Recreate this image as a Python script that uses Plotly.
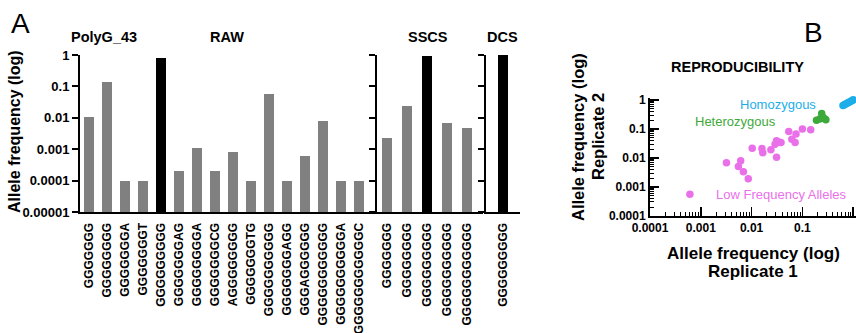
import plotly.graph_objects as go

W, H = 856, 333
FONT = "Liberation Sans, Arial, sans-serif"


def fx(p):
    return p / W


def fy(p):
    return 1 - p / H


# ---------------- data ----------------
raw_labels = ["GGGGGGG", "GGGGGGGG", "GGGGGGGA", "GGGGGGGT", "GGGGGGGGG",
              "GGGGGGGAG", "GGGGGGGGA", "GGGGGGGCG", "AGGGGGGGG", "GGGGGGGTG",
              "GGGGGGGGGG", "GGGGGGGAGG", "GGGAGGGGGG", "GGGGGGGGGGG",
              "GGGGGGGGGGA", "GGGGGGGGGGGC"]
raw_values = [0.011, 0.135, 0.0001, 0.0001, 0.78, 0.0002, 0.0011, 0.0002,
              0.0008, 0.0001, 0.056, 0.0001, 0.0006, 0.008, 0.0001, 0.0001]

sscs_labels = ["GGGGGGG", "GGGGGGGG", "GGGGGGGGG", "GGGGGGGGGG", "GGGGGGGGGGG"]
sscs_values = [0.0023, 0.024, 0.95, 0.0069, 0.0047]

dcs_labels = ["GGGGGGGGG"]
dcs_values = [0.98]

reference_allele = "GGGGGGGGG"

freq_ticks = [0.00001, 0.0001, 0.001, 0.01, 0.1, 1]
freq_ticktext = ["0.00001", "0.0001", "0.001", "0.01", "0.1", "1"]

homo_rep1 = [0.63, 0.67, 0.71, 0.76, 0.81, 0.86, 0.92, 0.97, 1.0]
homo_rep2 = [0.65, 0.69, 0.73, 0.77, 0.82, 0.87, 0.92, 0.97, 1.02]

het_rep1 = [0.24, 0.19, 0.29, 0.25, 0.22, 0.27]
het_rep2 = [0.34, 0.20, 0.21, 0.26, 0.22, 0.23]

low_rep1 = [0.00061, 0.0032, 0.0061, 0.0055, 0.0069, 0.0086, 0.0103, 0.016,
            0.0166, 0.024, 0.031, 0.029, 0.031, 0.035, 0.038, 0.054, 0.075,
            0.062, 0.072, 0.10, 0.146]
low_rep2 = [0.00055, 0.0068, 0.008, 0.005, 0.0033, 0.0019, 0.0215, 0.021,
            0.015, 0.019, 0.0105, 0.0295, 0.039, 0.035, 0.034, 0.081, 0.067,
            0.044, 0.034, 0.10, 0.094]

scatter_ticks = [0.0001, 0.001, 0.01, 0.1, 1]
scatter_ticktext = ["0.0001", "0.001", "0.01", "0.1", "1"]

GRAY = "#808080"
BLACK = "#000000"
CYAN = "#1DAEEA"
GREEN = "#3DA93A"
MAGENTA = "#EA70EA"

fig = go.Figure()


def bar_colors(labels):
    return [BLACK if l == reference_allele else GRAY for l in labels]


fig.add_trace(go.Bar(x=list(range(len(raw_labels))), y=raw_values,
                     marker=dict(color=bar_colors(raw_labels), line=dict(width=0)),
                     width=0.52, xaxis="x", yaxis="y"))
fig.add_trace(go.Bar(x=list(range(len(sscs_labels))), y=sscs_values,
                     marker=dict(color=bar_colors(sscs_labels), line=dict(width=0)),
                     width=0.47, xaxis="x2", yaxis="y2"))
fig.add_trace(go.Bar(x=list(range(len(dcs_labels))), y=dcs_values,
                     marker=dict(color=bar_colors(dcs_labels), line=dict(width=0)),
                     width=0.28, xaxis="x3", yaxis="y3"))

for xs, ys, c in [(low_rep1, low_rep2, MAGENTA), (het_rep1, het_rep2, GREEN),
                  (homo_rep1, homo_rep2, CYAN)]:
    fig.add_trace(go.Scatter(x=xs, y=ys, mode="markers",
                             marker=dict(color=c, size=7.5, line=dict(width=0)),
                             xaxis="x4", yaxis="y4", cliponaxis=False))

ydom = [fy(212), fy(55)]
tickfont_y = dict(family=FONT, size=13, color="black", weight="bold")
tickfont_x = dict(family=FONT, size=12, color="black", weight="bold")

common_x = dict(showgrid=False, zeroline=False, showline=True, linecolor="black",
                linewidth=2, ticks="", tickangle=-90, tickfont=tickfont_x,
                tickmode="array", ticklabelstandoff=4, fixedrange=True,
                automargin=False)
common_y = dict(type="log", range=[-5, 0], showgrid=False, zeroline=False,
                showline=True, linecolor="black", linewidth=2, ticks="outside",
                ticklen=6, tickwidth=2, tickcolor="black", tickmode="array",
                tickvals=freq_ticks, ticktext=freq_ticktext, tickfont=tickfont_y,
                automargin=False)

fig.update_layout(
    xaxis=dict(domain=[fx(80), fx(377)], range=[-0.5, 16.0], anchor="y",
               tickvals=list(range(len(raw_labels))), ticktext=raw_labels, **common_x),
    yaxis=dict(domain=ydom, anchor="x", **common_y),
    xaxis2=dict(domain=[fx(377), fx(483)], range=[-0.5, 4.8], anchor="y2",
                tickvals=list(range(len(sscs_labels))), ticktext=sscs_labels, **common_x),
    yaxis2=dict(domain=ydom, anchor="x2", showticklabels=False, **common_y),
    xaxis3=dict(domain=[fx(486), fx(520)], range=[-0.5, 0.5], anchor="y3",
                tickvals=list(range(len(dcs_labels))), ticktext=dcs_labels, **common_x),
    yaxis3=dict(domain=ydom, anchor="x3", showticklabels=False, **common_y),
)

scatter_axis = dict(type="log", showgrid=False, zeroline=False, showline=True,
                    linecolor="black", linewidth=2, ticks="inside", ticklen=9,
                    tickwidth=1.5, tickcolor="black", tickmode="array",
                    tickvals=scatter_ticks, ticktext=scatter_ticktext,
                    tickfont=dict(family=FONT, size=12, color="black", weight="bold"),
                    automargin=False,
                    minor=dict(ticks="inside", ticklen=4, tickwidth=1,
                               tickcolor="black", dtick="D1", showgrid=False))

fig.update_layout(
    xaxis4=dict(domain=[fx(650), fx(855.7)], range=[-4, 0.05], anchor="y4",
                **scatter_axis),
    yaxis4=dict(domain=[fy(215.7), fy(97.9)], range=[-4, 0.075], anchor="x4",
                **scatter_axis),
)

ann = []


def text(x, y, s, size, color="black", bold=True, angle=0, xanchor="center"):
    ann.append(dict(x=fx(x), y=fy(y), xref="paper", yref="paper", text=s,
                    showarrow=False, textangle=angle, xanchor=xanchor,
                    yanchor="middle",
                    font=dict(family=FONT, size=size, color=color,
                              weight="bold" if bold else "normal")))


text(20, 23, "A", 28, bold=False)
text(813, 32, "B", 28, bold=False)
text(104, 37, "PolyG_43", 14.5)
text(226.7, 37, "RAW", 14.5)
text(427.5, 37, "SSCS", 14.5)
text(502.5, 37, "DCS", 14.5)
text(15, 132, "Allele frequency (log)", 16, angle=-90)
text(737, 67, "REPRODUCIBILITY", 14.5)
text(753, 253, "Allele frequency (log)", 17)
text(753, 271, "Replicate 1", 17)
text(578, 137, "Allele frequency (log)", 16.5, angle=-90)
text(598, 137, "Replicate 2", 16.5, angle=-90)
text(778, 104, "Homozygous", 13, color=CYAN, bold=False)
text(735, 122, "Heterozygous", 13, color=GREEN, bold=False)
text(781.3, 194, "Low Frequency Alleles", 13, color=MAGENTA, bold=False)

fig.update_layout(
    width=W, height=H, margin=dict(l=0, r=0, t=0, b=0, autoexpand=False),
    paper_bgcolor="white", plot_bgcolor="white", showlegend=False,
    annotations=ann, bargap=0,
)

fig.write_html("out.html", config={"displayModeBar": False, "staticPlot": True},
               post_script="document.body.style.margin='0';"
                           "document.body.style.overflow='hidden';")
